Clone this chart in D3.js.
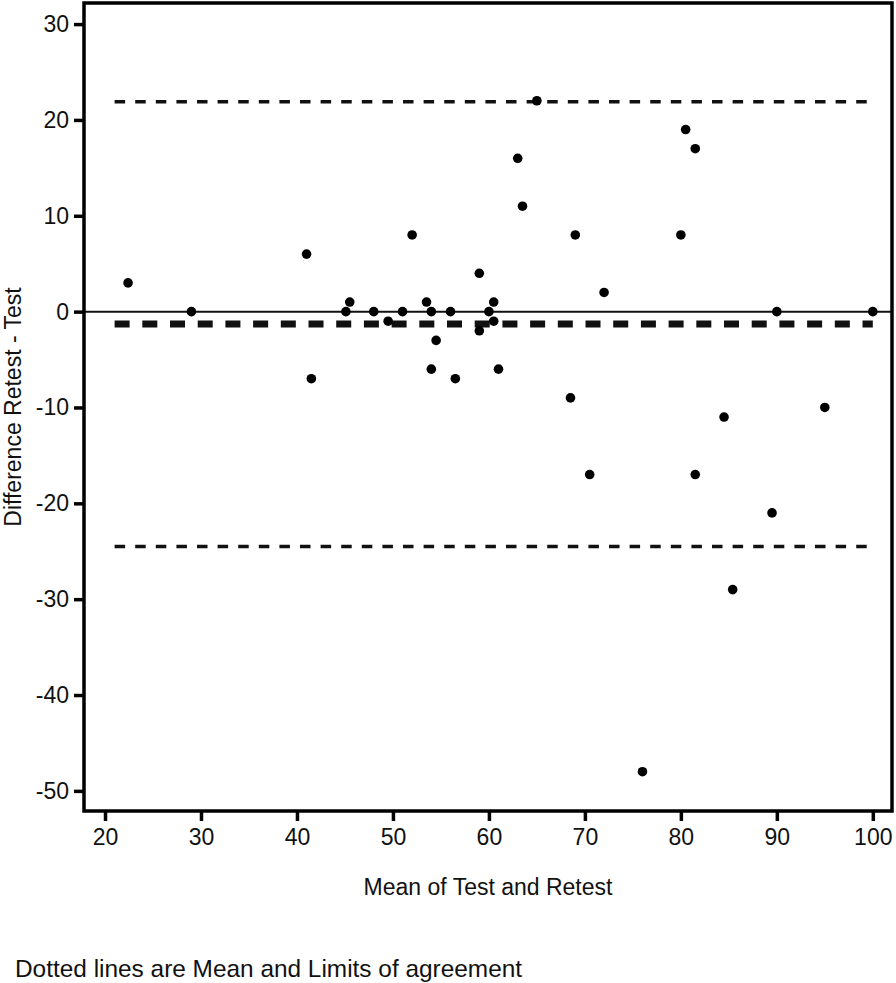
<!DOCTYPE html>
<html>
<head>
<meta charset="utf-8">
<script src="https://cdn.jsdelivr.net/npm/d3@7"></script>
<style>
  html, body { margin: 0; padding: 0; background: #fff; }
  svg text { font-family: "Liberation Sans", Arial, sans-serif; fill: #111; }
</style>
</head>
<body>
<svg id="chart" width="896" height="983"></svg>
<script>
// Bland-Altman data: mean of test & retest (x) and difference retest - test (y)
const meanValues = [22.4, 29.0, 41.0, 41.5, 45.1, 45.5, 48.0, 49.5, 51.0, 52.0,
                    53.5, 54.0, 54.0, 54.5, 56.0, 56.5, 59.0, 59.0, 60.0, 60.5,
                    60.5, 61.0, 63.0, 63.5, 65.0, 68.5, 69.0, 70.5, 72.0, 76.0,
                    80.0, 80.5, 81.5, 81.5, 84.5, 85.4, 89.5, 90.0, 95.0, 100.0];
const diffValues = [3, 0, 6, -7, 0, 1, 0, -1, 0, 8,
                    1, -6, 0, -3, 0, -7, 4, -2, 0, 1,
                    -1, -6, 16, 11, 22, -9, 8, -17, 2, -48,
                    8, 19, 17, -17, -11, -29, -21, 0, -10, 0];
const biasValue = -1.3;
const upperLimit = 21.9;
const lowerLimit = -24.5;
const limitRange = [21, 100];
const xTicks = [20, 30, 40, 50, 60, 70, 80, 90, 100];
const yTicks = [30, 20, 10, 0, -10, -20, -30, -40, -50];
const xTitle = "Mean of Test and Retest";
const yTitle = "Difference Retest - Test";
const footnote = "Dotted lines are Mean and Limits of agreement";

const svg = d3.select("#chart");
const L = 84, R = 892, T = 3, B = 811;

const x = d3.scaleLinear().domain([17.81, 102.0]).range([L, R]);
const y = d3.scaleLinear().domain([-52.1, 32.2]).range([B, T]);

// Zero reference line (solid)
svg.append("line")
  .attr("x1", L).attr("x2", R)
  .attr("y1", y(0)).attr("y2", y(0))
  .attr("stroke", "#111").attr("stroke-width", 2);

// Limits of agreement (dashed)
[upperLimit, lowerLimit].forEach(v => {
  svg.append("line")
    .attr("x1", x(limitRange[0])).attr("x2", x(limitRange[1]))
    .attr("y1", y(v)).attr("y2", y(v))
    .attr("stroke", "#111").attr("stroke-width", 3.5)
    .attr("stroke-dasharray", "10.5 10.1");
});
// Mean difference (thick dashed)
svg.append("line")
  .attr("x1", x(limitRange[0])).attr("x2", x(limitRange[1]))
  .attr("y1", y(biasValue)).attr("y2", y(biasValue))
  .attr("stroke", "#111").attr("stroke-width", 7)
  .attr("stroke-dasharray", "15 12.7");

// Points
svg.append("g").selectAll("circle")
  .data(meanValues.map((m, i) => [m, diffValues[i]]))
  .join("circle")
  .attr("cx", d => x(d[0]))
  .attr("cy", d => y(d[1]))
  .attr("r", 4.8)
  .attr("fill", "#000");

// Frame
svg.append("rect")
  .attr("x", L).attr("y", T)
  .attr("width", R - L).attr("height", B - T)
  .attr("fill", "none").attr("stroke", "#000").attr("stroke-width", 3.5);

// Axes
const fmt = d => String(d);
const yAxis = d3.axisLeft(y).tickValues(yTicks).tickSize(10).tickPadding(5).tickFormat(fmt);
const gy = svg.append("g").attr("transform", `translate(${L},0)`).call(yAxis);
gy.select(".domain").remove();
gy.selectAll(".tick line").attr("stroke", "#000").attr("stroke-width", 3.5);
gy.selectAll(".tick text").attr("font-size", 23).attr("fill", "#111")
  .attr("font-family", "Liberation Sans, Arial, sans-serif");

const xAxis = d3.axisBottom(x).tickValues(xTicks).tickSize(10).tickPadding(8).tickFormat(fmt);
const gx = svg.append("g").attr("transform", `translate(0,${B})`).call(xAxis);
gx.select(".domain").remove();
gx.selectAll(".tick line").attr("stroke", "#000").attr("stroke-width", 3.5);
gx.selectAll(".tick text").attr("font-size", 23).attr("fill", "#111")
  .attr("font-family", "Liberation Sans, Arial, sans-serif");

// Titles
svg.append("text")
  .attr("x", (L + R) / 2).attr("y", 895)
  .attr("text-anchor", "middle").attr("font-size", 23)
  .text(xTitle);

svg.append("text")
  .attr("transform", `translate(21,${(T + B) / 2}) rotate(-90)`)
  .attr("text-anchor", "middle").attr("font-size", 23)
  .text(yTitle);

svg.append("text")
  .attr("x", 15).attr("y", 977)
  .attr("font-size", 24.4)
  .text(footnote);
</script>
</body>
</html>
